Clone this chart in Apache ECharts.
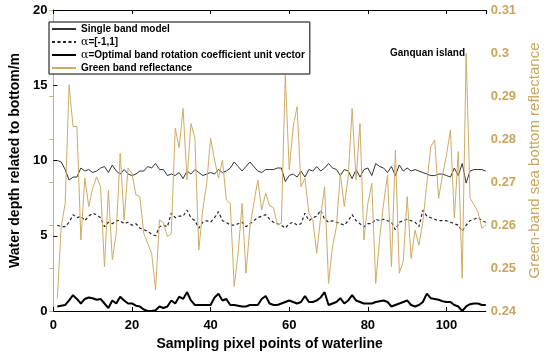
<!DOCTYPE html>
<html><head><meta charset="utf-8">
<script src="https://cdn.jsdelivr.net/npm/echarts@6/dist/echarts.min.js"></script>
<style>html,body{margin:0;padding:0;background:#fff}#c{width:550px;height:360px}</style>
</head><body><div id="c"></div>
<script>
const samplePoints = [1,2,3,4,5,6,7,8,9,10,11,12,13,14,15,16,17,18,19,20,21,22,23,24,25,26,27,28,29,30,31,32,33,34,35,36,37,38,39,40,41,42,43,44,45,46,47,48,49,50,51,52,53,54,55,56,57,58,59,60,61,62,63,64,65,66,67,68,69,70,71,72,73,74,75,76,77,78,79,80,81,82,83,84,85,86,87,88,89,90,91,92,93,94,95,96,97,98,99,100,101,102,103,104,105,106,107,108,109,110];

const singleBand = [10.0,9.9,9.4,8.7,8.9,8.9,9.5,9.3,9.4,9.2,9.3,9.5,9.6,9.2,9.7,9.3,9.1,9.4,9.1,9.0,
9.1,9.3,9.3,9.6,9.5,9.8,9.4,9.4,9.0,9.1,9.0,9.2,8.8,9.3,9.1,9.4,9.2,9.0,9.1,9.2,
9.1,9.4,9.2,9.3,9.5,9.9,9.6,9.3,9.6,9.9,9.6,9.3,9.2,9.4,9.4,9.4,9.5,9.5,8.6,9.0,
9.1,8.9,9.3,8.9,9.4,9.3,9.6,9.3,9.5,9.8,9.5,9.4,9.0,9.4,9.3,8.8,9.4,8.9,9.4,9.5,
9.0,9.8,9.6,9.5,9.2,9.6,9.0,9.7,9.3,9.5,9.3,9.4,9.3,9.2,9.1,9.0,9.0,9.1,9.1,9.0,
8.9,9.5,9.0,9.8,8.5,9.3,9.4,9.4,9.4,9.3];

const alphaRange = [5.7,5.6,5.6,5.9,6.4,6.2,6.3,6.0,6.3,6.5,6.4,6.2,5.6,5.9,5.8,6.0,6.0,5.8,5.9,5.7,
5.8,5.5,5.4,5.3,5.1,5.0,5.6,5.7,5.6,6.5,6.2,6.3,6.3,6.7,6.2,6.0,5.5,5.9,6.0,5.9,
6.2,6.6,6.0,5.9,5.7,5.7,5.8,5.9,5.6,5.8,6.0,6.2,6.3,6.4,6.1,5.9,5.8,5.7,5.5,5.8,
5.9,5.7,5.8,6.5,6.0,6.2,6.3,6.7,6.1,5.9,6.0,5.9,5.8,5.7,6.0,6.4,6.0,5.8,5.6,5.8,
5.8,6.1,6.0,6.1,6.0,5.9,5.4,5.9,6.0,6.1,6.0,5.9,5.6,6.7,6.3,6.2,6.1,6.0,6.0,6.0,
5.9,5.8,5.7,5.3,5.7,6.0,6.1,6.2,6.0,5.9];

const alphaOptimal = [0.3,0.35,0.4,0.7,1.05,0.8,0.5,0.8,0.9,0.85,0.75,0.8,0.5,0.2,0.7,0.5,0.95,0.7,0.5,0.5,
0.35,0.3,0.1,0.0,0.0,0.05,0.3,0.2,0.3,0.7,0.5,0.95,0.8,1.25,0.7,0.4,0.4,0.4,0.4,0.4,
0.9,1.15,0.7,0.8,0.4,0.4,0.35,0.3,0.3,0.4,0.4,0.4,0.8,1.0,0.5,0.4,0.4,0.5,0.6,0.7,
0.6,0.5,0.6,1.0,0.6,0.6,0.7,0.9,1.25,0.4,0.5,0.6,0.85,0.5,0.7,1.05,0.7,0.6,0.5,0.5,
0.5,0.6,0.65,0.7,0.6,0.3,0.4,0.5,0.6,0.7,0.4,0.3,0.4,0.6,1.15,0.85,0.8,0.75,0.65,0.6,
0.6,0.4,0.3,0.0,0.3,0.45,0.5,0.5,0.4,0.4];

const greenReflectance = [0.2429,0.2596,0.2650,0.2926,0.2829,0.2829,0.2565,0.2709,0.2643,0.2685,
0.2712,0.2689,0.2503,0.2681,0.2519,0.2581,0.2767,0.2612,0.2732,0.2720,
0.2670,0.2666,0.2581,0.2557,0.2534,0.2449,0.2612,0.2605,0.2573,0.2580,
0.2825,0.2780,0.2871,0.2705,0.2836,0.2802,0.2542,0.2635,0.2697,0.2802,
0.2751,0.2709,0.2751,0.2658,0.2650,0.2457,0.2534,0.2650,0.2488,0.2596,
0.2650,0.2705,0.2635,0.2674,0.2645,0.2640,0.2600,0.2604,0.2949,0.2728,
0.2829,0.2875,0.2689,0.2709,0.2627,0.2612,0.2534,0.2619,0.2689,0.2464,
0.2550,0.2596,0.2720,0.2643,0.2712,0.2871,0.2705,0.2836,0.2565,0.2650,
0.2697,0.2464,0.2569,0.2650,0.2716,0.2503,0.2774,0.2488,0.2515,0.2666,
0.2522,0.2588,0.2553,0.2608,0.2697,0.2782,0.2798,0.2662,0.2716,0.2763,
0.2821,0.2616,0.2771,0.2476,0.2999,0.2662,0.2647,0.2631,0.2592,0.2600];

const seriesNames = ['Single band model','\u03b1=[-1,1]','\u03b1=Optimal band rotation coefficient unit vector','Green band reflectance'];
const xTitle = 'Sampling pixel points of waterline';
const yLeftTitle = 'Water depth related to bottom/m';
const yRightTitle = 'Green-band sea bottom reflectance';
const annotation = 'Ganquan island';

const GOLD = '#CDAC66';
const FONT = 'Arial, "Liberation Sans", sans-serif';
const pairs = arr => samplePoints.map((x, i) => [x, arr[i]]);

const chart = echarts.init(document.getElementById('c'), null, {renderer: 'canvas'});
chart.setOption({
  animation: false,
  backgroundColor: '#fff',
  grid: {left: 42, right: 59, top: 10, bottom: 49, containLabel: false},
  legend: {
    orient: 'vertical', left: 49, top: 22,
    padding: [1, 5, 0, 2], itemGap: 1, itemWidth: 24, itemHeight: 10,
    itemStyle: {color: 'rgba(0,0,0,0)', borderWidth: 0, borderColor: 'rgba(0,0,0,0)', opacity: 0},
    backgroundColor: '#fff', borderColor: '#000', borderWidth: 1,
    textStyle: {fontFamily: FONT, fontWeight: 'bold', fontSize: 10, color: '#000', lineHeight: 12,
      rich: {a: {fontFamily: '"DejaVu Serif", "Liberation Serif", serif', fontWeight: 'normal', fontSize: 11, lineHeight: 12, color: '#000'}}},
    formatter: name => name.replace('\u03b1', '{a|\u03b1}'),
    data: seriesNames
  },
  xAxis: [{
    type: 'value', min: 0, max: 110, interval: 20, position: 'bottom',
    splitLine: {show: false},
    axisLine: {show: true, lineStyle: {color: '#000', width: 1}},
    axisTick: {show: true, inside: true, length: 4, lineStyle: {color: '#000'}},
    axisLabel: {showMaxLabel: false, margin: 8, fontFamily: FONT, fontWeight: 'bold', fontSize: 13, color: '#000'},
    name: xTitle, nameLocation: 'middle', nameGap: 26,
    nameTextStyle: {fontFamily: FONT, fontWeight: 'bold', fontSize: 14, color: '#000'}
  }, {
    type: 'value', min: 0, max: 110, interval: 20, position: 'top',
    splitLine: {show: false},
    axisLine: {show: true, lineStyle: {color: '#000', width: 1}},
    axisTick: {show: true, inside: true, length: 4, lineStyle: {color: '#000'}},
    axisLabel: {show: false}
  }],
  yAxis: [{
    type: 'value', min: 0, max: 20, interval: 5, position: 'left',
    splitLine: {show: false},
    axisLine: {show: true, lineStyle: {color: '#000', width: 1}},
    axisTick: {show: true, inside: true, length: 4, lineStyle: {color: '#000'}},
    axisLabel: {margin: 6, fontFamily: FONT, fontWeight: 'bold', fontSize: 13, color: '#000'},
    name: yLeftTitle, nameLocation: 'middle', nameGap: 26, nameRotate: 90,
    nameTextStyle: {fontFamily: FONT, fontWeight: 'bold', fontSize: 14, color: '#000'}
  }, {
    type: 'value', min: 0.24, max: 0.31, interval: 0.01, position: 'right',
    splitLine: {show: false},
    axisLine: {show: true, lineStyle: {color: GOLD, width: 1}},
    axisTick: {show: true, inside: true, length: 4, lineStyle: {color: GOLD}},
    axisLabel: {margin: 5, fontFamily: FONT, fontWeight: 'bold', fontSize: 13, color: '#C9A55E',
      formatter: v => String(+v.toFixed(2))},
    name: yRightTitle, nameLocation: 'middle', nameGap: 40, nameRotate: 90,
    nameTextStyle: {fontFamily: FONT, fontSize: 15, color: '#C9A55E'}
  }],
  series: [{
    name: seriesNames[0], type: 'line', xAxisIndex: 0, yAxisIndex: 0, data: pairs(singleBand),
    symbol: 'none', lineStyle: {color: '#333', width: 1}, itemStyle: {color: '#333'}
  }, {
    name: seriesNames[1], type: 'line', xAxisIndex: 0, yAxisIndex: 0, data: pairs(alphaRange),
    symbol: 'none', lineStyle: {color: '#222', width: 1.2, type: [3, 2.5]}, itemStyle: {color: '#222'}
  }, {
    name: seriesNames[2], type: 'line', xAxisIndex: 0, yAxisIndex: 0, data: pairs(alphaOptimal),
    symbol: 'none', lineStyle: {color: '#000', width: 2}, itemStyle: {color: '#000'}
  }, {
    name: seriesNames[3], type: 'line', xAxisIndex: 0, yAxisIndex: 1, data: pairs(greenReflectance),
    symbol: 'none', lineStyle: {color: GOLD, width: 1}, itemStyle: {color: GOLD}
  }],
  graphic: [{
    type: 'text', left: 390, top: 48,
    style: {text: annotation, fontFamily: FONT, fontWeight: 'bold', fontSize: 10, fill: '#000'}
  }]
});
</script></body></html>
